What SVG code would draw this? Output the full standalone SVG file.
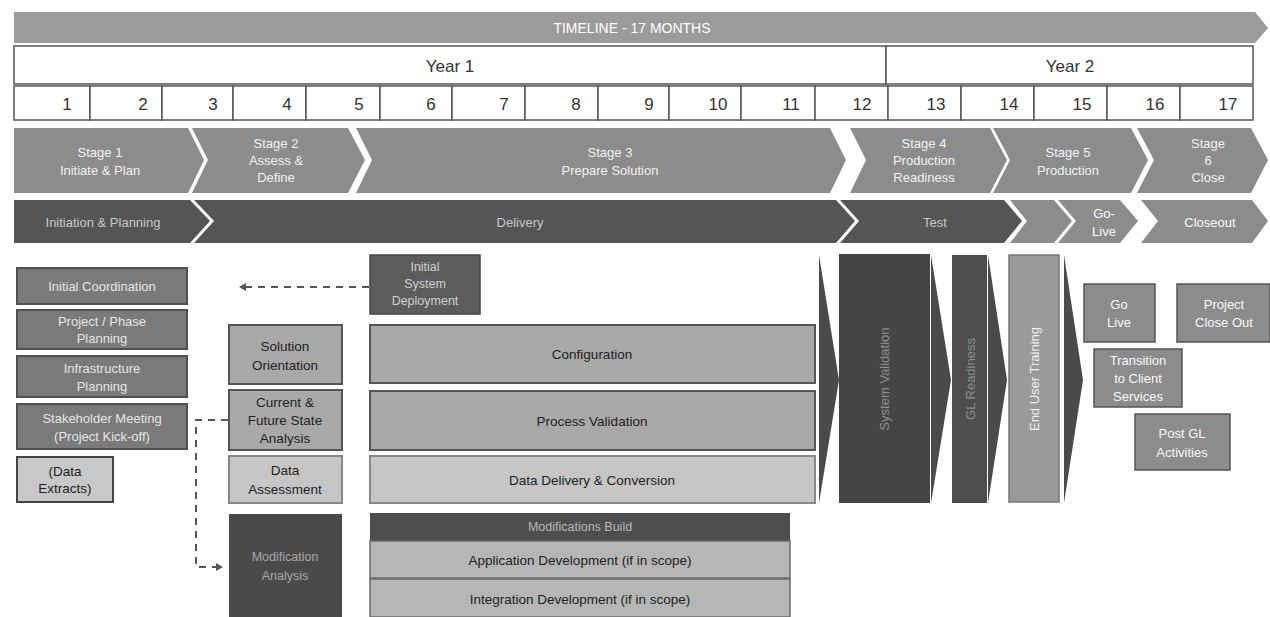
<svg xmlns="http://www.w3.org/2000/svg" width="1270" height="617" viewBox="0 0 1270 617">
<style>
text{font-family:"Liberation Sans",Arial,sans-serif;text-anchor:middle;dominant-baseline:central}
.stage{fill:#8c8c8c}
.dark{fill:#555}
.stt{fill:#f2f2f2;font-size:13px}
.dlt{fill:#c8c8c8;font-size:13px}
.cell{fill:#fff;stroke:#555;stroke-width:1.5}
.num{fill:#333;font-size:17px}
.lbox{fill:#7a7a7a;stroke:#505050;stroke-width:2}
.ltxt{fill:#e6e6e6;font-size:13px}
.mbox{fill:#a9a9a9;stroke:#555;stroke-width:2}
.pbox{fill:#c6c6c6;stroke:#888;stroke-width:2}
.btxt{fill:#222;font-size:13.5px}
.gbox{fill:#8c8c8c;stroke:#555;stroke-width:1.5}
.wtxt{fill:#fafafa;font-size:13px}
.tri{fill:#4a4a4a}
.conn{fill:none;stroke:#555;stroke-width:2;stroke-dasharray:7 6}
</style>
<defs>
<marker id="ah" markerWidth="8" markerHeight="8" refX="6" refY="4" orient="auto" markerUnits="userSpaceOnUse">
<path d="M0,0 L7,4 L0,8 Z" fill="#555"/>
</marker>
</defs>
<rect width="1270" height="617" fill="#fff"/>

<g id="timeline">
<path d="M14,12 H1255 L1268,28 L1255,43 H14 Z" fill="#9b9b9b"/>
<text x="632" y="28" fill="#fff" font-size="14">TIMELINE - 17 MONTHS</text>
</g>

<g id="years">
<rect class="cell" x="14" y="46" width="872" height="38"/>
<rect class="cell" x="886" y="46" width="367" height="38"/>
<text class="num" x="450" y="66">Year 1</text>
<text class="num" x="1070" y="66">Year 2</text>
</g>

<g id="months">
<rect class="cell" x="14" y="86" width="76" height="34"/><text class="num" x="67" y="104">1</text>
<rect class="cell" x="90" y="86" width="72" height="34"/><text class="num" x="143" y="104">2</text>
<rect class="cell" x="162" y="86" width="71" height="34"/><text class="num" x="213" y="104">3</text>
<rect class="cell" x="233" y="86" width="73" height="34"/><text class="num" x="287" y="104">4</text>
<rect class="cell" x="306" y="86" width="74" height="34"/><text class="num" x="359" y="104">5</text>
<rect class="cell" x="380" y="86" width="72" height="34"/><text class="num" x="431" y="104">6</text>
<rect class="cell" x="452" y="86" width="73" height="34"/><text class="num" x="504" y="104">7</text>
<rect class="cell" x="525" y="86" width="73" height="34"/><text class="num" x="576" y="104">8</text>
<rect class="cell" x="598" y="86" width="71" height="34"/><text class="num" x="649" y="104">9</text>
<rect class="cell" x="669" y="86" width="72" height="34"/><text class="num" x="718" y="104">10</text>
<rect class="cell" x="741" y="86" width="74" height="34"/><text class="num" x="791" y="104">11</text>
<rect class="cell" x="815" y="86" width="73" height="34"/><text class="num" x="862" y="104">12</text>
<rect class="cell" x="888" y="86" width="73" height="34"/><text class="num" x="936" y="104">13</text>
<rect class="cell" x="961" y="86" width="73" height="34"/><text class="num" x="1009" y="104">14</text>
<rect class="cell" x="1034" y="86" width="73" height="34"/><text class="num" x="1082" y="104">15</text>
<rect class="cell" x="1107" y="86" width="73" height="34"/><text class="num" x="1155" y="104">16</text>
<rect class="cell" x="1180" y="86" width="73" height="34"/><text class="num" x="1228" y="104">17</text>
</g>

<g id="stage1"><path class="stage" d="M14,128 H188 L204,160 L188,193 H14 Z"/><text class="stt" x="100" y="152">Stage 1</text><text class="stt" x="100" y="170">Initiate &amp; Plan</text></g>
<g id="stage2"><path class="stage" d="M192,128 H348 L365,160 L348,193 H192 L208,160 Z"/><text class="stt" x="276" y="143">Stage 2</text><text class="stt" x="276" y="160">Assess &amp;</text><text class="stt" x="276" y="177">Define</text></g>
<g id="stage3"><path class="stage" d="M356,128 H830 L846,160 L830,193 H356 L372,160 Z"/><text class="stt" x="610" y="152">Stage 3</text><text class="stt" x="610" y="170">Prepare Solution</text></g>
<g id="stage4"><path class="stage" d="M850,128 H990 L1007,160 L990,193 H850 L866,160 Z"/><text class="stt" x="924" y="143">Stage 4</text><text class="stt" x="924" y="160">Production</text><text class="stt" x="924" y="177">Readiness</text></g>
<g id="stage5"><path class="stage" d="M993,128 H1131 L1148,160 L1131,193 H993 L1010,160 Z"/><text class="stt" x="1068" y="152">Stage 5</text><text class="stt" x="1068" y="170">Production</text></g>
<g id="stage6"><path class="stage" d="M1137,128 H1251 L1268,160 L1251,193 H1137 L1154,160 Z"/><text class="stt" x="1208" y="143">Stage</text><text class="stt" x="1208" y="160">6</text><text class="stt" x="1208" y="177">Close</text></g>

<g id="phase-init"><path class="dark" d="M14,200 H190 L210,221 L190,243 H14 Z"/><text class="dlt" x="103" y="222">Initiation &amp; Planning</text></g>
<g id="phase-delivery"><path class="dark" d="M194,200 H836 L855,221 L836,243 H194 L214,221 Z"/><text class="dlt" x="520" y="222">Delivery</text></g>
<g id="phase-test"><path class="dark" d="M840,200 H1004 L1022,221 L1004,243 H840 L859,221 Z"/><text class="dlt" x="935" y="222">Test</text></g>
<g id="phase-small"><path class="stage" d="M1010,200 H1054 L1072,221 L1054,243 H1010 L1027,221 Z"/></g>
<g id="phase-golive"><path class="stage" d="M1058,200 H1120 L1138,221 L1120,243 H1058 L1076,221 Z"/><text class="wtxt" x="1104" y="213">Go-</text><text class="wtxt" x="1104" y="231">Live</text></g>
<g id="phase-closeout"><path class="stage" d="M1141,200 H1252 L1268,221 L1252,243 H1141 L1158,221 Z"/><text class="wtxt" x="1210" y="222">Closeout</text></g>

<g id="initial-coordination"><rect class="lbox" x="17" y="268" width="170" height="36"/><text class="ltxt" x="102" y="286">Initial Coordination</text></g>
<g id="project-phase-planning"><rect class="lbox" x="17" y="310" width="170" height="39"/><text class="ltxt" x="102" y="321">Project / Phase</text><text class="ltxt" x="102" y="338">Planning</text></g>
<g id="infrastructure-planning"><rect class="lbox" x="17" y="356" width="170" height="41"/><text class="ltxt" x="102" y="368">Infrastructure</text><text class="ltxt" x="102" y="386">Planning</text></g>
<g id="stakeholder-meeting"><rect class="lbox" x="17" y="404" width="170" height="45"/><text class="ltxt" x="102" y="418">Stakeholder Meeting</text><text class="ltxt" x="102" y="436">(Project Kick-off)</text></g>
<g id="data-extracts"><rect x="17" y="457" width="96" height="45" fill="#c8c8c8" stroke="#444" stroke-width="2"/><text class="btxt" x="65" y="471">(Data</text><text class="btxt" x="65" y="488">Extracts)</text></g>

<g id="initial-system-deployment"><rect x="370" y="255" width="110" height="59" fill="#5c5c5c" stroke="#444" stroke-width="1.5"/><text fill="#d0d0d0" font-size="12.5" x="425" y="267">Initial</text><text fill="#d0d0d0" font-size="12.5" x="425" y="284">System</text><text fill="#d0d0d0" font-size="12.5" x="425" y="301">Deployment</text></g>

<g id="solution-orientation"><rect class="mbox" x="229" y="325" width="113" height="59"/><text class="btxt" x="285" y="346">Solution</text><text class="btxt" x="285" y="365">Orientation</text></g>
<g id="current-future"><rect class="mbox" x="229" y="390" width="113" height="60"/><text class="btxt" x="285" y="402">Current &amp;</text><text class="btxt" x="285" y="420">Future State</text><text class="btxt" x="285" y="438">Analysis</text></g>
<g id="data-assessment"><rect class="pbox" x="229" y="456" width="113" height="47"/><text class="btxt" x="285" y="470">Data</text><text class="btxt" x="285" y="489">Assessment</text></g>
<g id="modification-analysis"><rect x="229" y="514" width="113" height="103" fill="#4a4a4a"/><text fill="#a8a8a8" font-size="12.5" x="285" y="557">Modification</text><text fill="#a8a8a8" font-size="12.5" x="285" y="576">Analysis</text></g>

<g id="configuration"><rect class="mbox" x="370" y="325" width="445" height="58"/><text class="btxt" x="592" y="354">Configuration</text></g>
<g id="process-validation"><rect class="mbox" x="370" y="391" width="445" height="59"/><text class="btxt" x="592" y="421">Process Validation</text></g>
<g id="data-delivery"><rect class="pbox" x="370" y="456" width="445" height="47"/><text class="btxt" x="592" y="480">Data Delivery &amp; Conversion</text></g>
<g id="modifications-build"><rect x="370" y="513" width="420" height="28" fill="#4e4e4e"/><text fill="#b8b8b8" font-size="12.5" x="580" y="527">Modifications Build</text></g>
<g id="application-development"><rect x="370" y="541" width="420" height="37" fill="#b6b6b6" stroke="#6a6a6a" stroke-width="1.5"/><text class="btxt" x="580" y="560">Application Development (if in scope)</text></g>
<g id="integration-development"><rect x="370" y="579" width="420" height="38" fill="#b6b6b6" stroke="#6a6a6a" stroke-width="1.5"/><text class="btxt" x="580" y="599">Integration Development (if in scope)</text></g>

<g id="arrow-1"><path class="tri" d="M819,255 L839,380 L819,503 Z"/></g>
<g id="system-validation"><rect x="839" y="254" width="91" height="249" fill="#454545"/><text fill="#8e8e8e" font-size="13" transform="translate(884,379) rotate(-90)">System Validation</text></g>
<g id="arrow-2"><path class="tri" d="M931,255 L951,380 L931,503 Z"/></g>
<g id="gl-readiness"><rect x="952" y="255" width="35" height="248" fill="#4d4d4d"/><text fill="#8e8e8e" font-size="13" transform="translate(970,379) rotate(-90)">GL Readiness</text></g>
<g id="arrow-3"><path class="tri" d="M988,255 L1007,380 L988,503 Z"/></g>
<g id="end-user-training"><rect x="1009" y="255" width="50" height="247" fill="#9a9a9a" stroke="#777" stroke-width="1.5"/><text fill="#f2f2f2" font-size="13" transform="translate(1034,379) rotate(-90)">End User Training</text></g>
<g id="arrow-4"><path class="tri" d="M1064,255 L1083,380 L1064,503 Z"/></g>

<g id="go-live"><rect class="gbox" x="1084" y="284" width="71" height="58" stroke="#444" stroke-width="2"/><text class="wtxt" x="1119" y="304">Go</text><text class="wtxt" x="1119" y="322">Live</text></g>
<g id="project-close-out"><rect class="gbox" x="1177" y="284" width="93" height="58"/><text class="wtxt" x="1224" y="304">Project</text><text class="wtxt" x="1224" y="322">Close Out</text></g>
<g id="transition"><rect class="gbox" x="1094" y="349" width="88" height="58"/><text class="wtxt" x="1138" y="360">Transition</text><text class="wtxt" x="1138" y="378">to Client</text><text class="wtxt" x="1138" y="396">Services</text></g>
<g id="post-gl"><rect class="gbox" x="1135" y="414" width="95" height="56"/><text class="wtxt" x="1182" y="433">Post GL</text><text class="wtxt" x="1182" y="452">Activities</text></g>

<g id="connectors">
<path class="conn" d="M369,287 H240" marker-end="url(#ah)"/>
<path class="conn" d="M228,420 H196 V567 H222" marker-end="url(#ah)"/>
</g>
</svg>
